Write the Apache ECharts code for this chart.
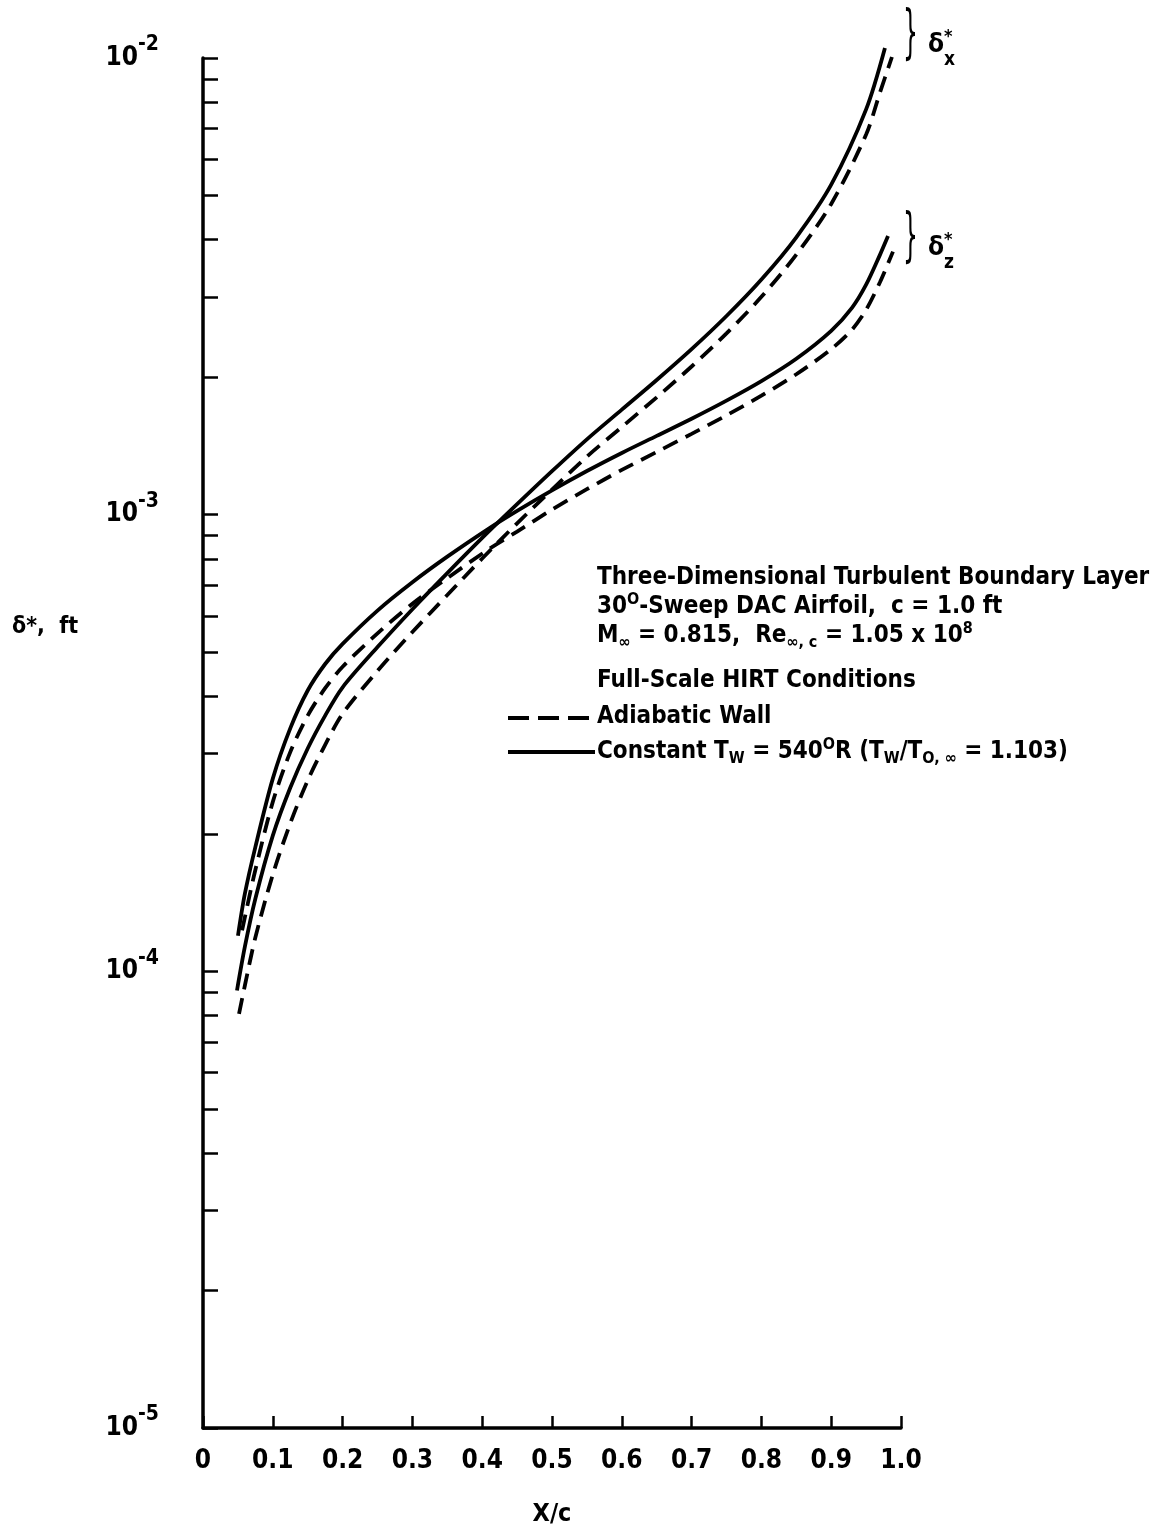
<!DOCTYPE html>
<html><head><meta charset="utf-8">
<script src="https://cdn.jsdelivr.net/npm/echarts@6/dist/echarts.min.js"></script>
<style>html,body{margin:0;padding:0;background:#fff}#c{width:1168px;height:1529px}</style>
</head><body><div id="c"></div>
<script>
const FONT = '"DejaVu Sans Condensed","DejaVu Sans",sans-serif';
const WEIGHT = 'bold';

const xTickLabels = ['0','0.1','0.2','0.3','0.4','0.5','0.6','0.7','0.8','0.9','1.0'];
const yLabelValues = [1e-5, 1e-4, 1e-3, 1e-2];
const yLabelExponents = ['-5', '-4', '-3', '-2'];
const yTickValues = [
  1e-5,2e-5,3e-5,4e-5,5e-5,6e-5,7e-5,8e-5,9e-5,
  1e-4,2e-4,3e-4,4e-4,5e-4,6e-4,7e-4,8e-4,9e-4,
  1e-3,2e-3,3e-3,4e-3,5e-3,6e-3,7e-3,8e-3,9e-3,1e-2
];

// delta*_x, constant Tw = 540 R (solid)
const deltaXConstTw = [
  [0.0487,9.08e-5],[0.060,1.132e-4],[0.075,1.442e-4],[0.100,1.982e-4],[0.125,2.523e-4],
  [0.150,3.076e-4],[0.175,3.631e-4],[0.200,4.188e-4],[0.250,5.129e-4],[0.300,6.209e-4],
  [0.350,7.447e-4],[0.400,8.892e-4],[0.450,1.054e-3],[0.500,1.245e-3],[0.550,1.462e-3],
  [0.600,1.698e-3],[0.650,1.972e-3],[0.700,2.304e-3],[0.750,2.723e-3],[0.800,3.273e-3],
  [0.850,4.050e-3],[0.900,5.279e-3],[0.950,7.718e-3],[0.977,1.052e-2]
];
// delta*_x, adiabatic wall (dashed)
const deltaXAdiabatic = [
  [0.0516,8.07e-5],[0.060,9.31e-5],[0.075,1.186e-4],[0.100,1.629e-4],[0.125,2.109e-4],
  [0.150,2.618e-4],[0.175,3.133e-4],[0.200,3.664e-4],[0.250,4.550e-4],[0.300,5.534e-4],
  [0.350,6.668e-4],[0.400,8.017e-4],[0.450,9.572e-4],[0.500,1.135e-3],[0.550,1.340e-3],
  [0.600,1.556e-3],[0.650,1.807e-3],[0.700,2.111e-3],[0.750,2.495e-3],[0.800,2.999e-3],
  [0.850,3.711e-3],[0.900,4.791e-3],[0.950,6.800e-3],[0.970,8.414e-3],[0.987,1.005e-2]
];
// delta*_z, constant Tw = 540 R (solid)
const deltaZConstTw = [
  [0.0501,1.197e-4],[0.060,1.479e-4],[0.075,1.871e-4],[0.100,2.642e-4],[0.125,3.404e-4],
  [0.150,4.121e-4],[0.175,4.710e-4],[0.200,5.212e-4],[0.250,6.166e-4],[0.300,7.112e-4],
  [0.350,8.091e-4],[0.410,9.333e-4],[0.450,1.019e-3],[0.500,1.130e-3],[0.550,1.246e-3],
  [0.600,1.365e-3],[0.650,1.488e-3],[0.700,1.622e-3],[0.750,1.777e-3],[0.800,1.961e-3],
  [0.850,2.195e-3],[0.900,2.527e-3],[0.930,2.841e-3],[0.950,3.188e-3],[0.970,3.711e-3],
  [0.9814,4.074e-3]
];
// delta*_z, adiabatic wall (dashed)
const deltaZAdiabatic = [
  [0.056,1.230e-4],[0.063,1.380e-4],[0.075,1.667e-4],[0.100,2.350e-4],[0.125,3.020e-4],
  [0.150,3.631e-4],[0.175,4.169e-4],[0.200,4.645e-4],[0.250,5.495e-4],[0.300,6.383e-4],
  [0.350,7.261e-4],[0.410,8.414e-4],[0.450,9.183e-4],[0.500,1.026e-3],[0.550,1.137e-3],
  [0.600,1.253e-3],[0.650,1.372e-3],[0.700,1.503e-3],[0.750,1.650e-3],[0.800,1.822e-3],
  [0.850,2.030e-3],[0.900,2.304e-3],[0.930,2.544e-3],[0.950,2.809e-3],[0.970,3.233e-3],
  [0.9885,3.767e-3]
];

const chart = echarts.init(document.getElementById('c'), null, {renderer: 'canvas'});

function R(size, extra) {
  return Object.assign({fontFamily: FONT, fontWeight: WEIGHT, fontSize: size, color: '#000', fill: '#000'}, extra || {});
}
const richText = {
  sup: R(16, {padding: [0, 0, 15, 0]}),
  sub: R(16, {padding: [14, 0, 0, 0]})
};

function lineSeries(name, data, dashed) {
  return {
    name: name, type: 'line', data: data, symbol: 'none', smooth: 0.3, clip: false,
    lineStyle: {color: '#000', width: 3.8, type: dashed ? [16, 9] : 'solid', cap: 'butt'},
    z: 3
  };
}

const legendLines = [
  {text: 'Three-Dimensional Turbulent Boundary Layer', y: 578},
  {text: '30{sup|O}-Sweep DAC Airfoil,  c = 1.0 ft', y: 607},
  {text: 'M{sub|∞} = 0.815,  Re{sub|∞, c} = 1.05 x 10{sup|8}', y: 636},
  {text: 'Full-Scale HIRT Conditions', y: 681},
  {text: 'Adiabatic Wall', y: 717},
  {text: 'Constant T{sub|W} = 540{sup|O}R (T{sub|W}/T{sub|O, ∞} = 1.103)', y: 752}
];

function txt(x, y, s, size, extra, weight) {
  return Object.assign({type: 'text', x: x, y: y, z: 10,
    style: {text: s, fontFamily: FONT, fontWeight: weight || WEIGHT, fontSize: size, fill: '#000',
            align: 'left', verticalAlign: 'middle'}}, extra || {});
}

const graphics = legendLines.map(l => {
  const g = txt(597, l.y, l.text, 24);
  g.style.rich = richText;
  return g;
});
graphics.push(
  {type: 'line', z: 10, shape: {x1: 508, y1: 718, x2: 595, y2: 718},
   style: {stroke: '#000', lineWidth: 3.8, lineDash: [21, 9]}},
  {type: 'line', z: 10, shape: {x1: 508, y1: 752, x2: 595, y2: 752},
   style: {stroke: '#000', lineWidth: 3.8}},
  txt(12, 627, 'δ*,  ft', 23),
  txt(903, 37, '}', 58, {scaleX: 0.45}, 'normal'),
  txt(928, 45, 'δ', 26),
  txt(944, 37, '*', 18),
  txt(944, 60, 'x', 19),
  txt(903, 240, '}', 58, {scaleX: 0.45}, 'normal'),
  txt(928, 248, 'δ', 26),
  txt(944, 240, '*', 18),
  txt(944, 263, 'z', 19)
);

chart.setOption({
  animation: false,
  backgroundColor: '#fff',
  grid: {left: 203, right: 267, top: 58, bottom: 101, containLabel: false, outerBoundsMode: 'none'},
  xAxis: {
    type: 'value', min: 0, max: 1, interval: 0.1,
    name: 'X/c', nameLocation: 'middle', nameGap: 74,
    nameTextStyle: {fontFamily: FONT, fontWeight: WEIGHT, fontSize: 25, color: '#000'},
    axisLine: {show: true, onZero: false, lineStyle: {color: '#000', width: 3.5}},
    axisTick: {show: true, inside: true, length: 12, lineStyle: {color: '#000', width: 2.5}},
    axisLabel: {
      margin: 20, color: '#000', fontFamily: FONT, fontWeight: WEIGHT, fontSize: 26,
      formatter: v => xTickLabels[Math.round(v * 10)]
    },
    splitLine: {show: false}
  },
  yAxis: {
    type: 'log', logBase: 10, min: 1e-5, max: 1e-2,
    axisLine: {show: true, onZero: false, lineStyle: {color: '#000', width: 3.5}},
    axisTick: {show: true, inside: true, length: 15, customValues: yTickValues,
               lineStyle: {color: '#000', width: 2.5}},
    axisLabel: {
      customValues: yLabelValues, margin: 44, color: '#000', fontFamily: FONT, fontSize: 26,
      formatter: v => {
        const i = yLabelValues.findIndex(t => Math.abs(Math.log10(t) - Math.log10(v)) < 1e-6);
        return '{b|10}{s|' + (i >= 0 ? yLabelExponents[i] : '') + '}';
      },
      rich: {
        b: R(26),
        s: R(21, {padding: [0, 0, 26, 0]})
      }
    },
    splitLine: {show: false},
    minorTick: {show: false}
  },
  series: [
    lineSeries('δx* Constant Tw', deltaXConstTw, false),
    lineSeries('δx* Adiabatic Wall', deltaXAdiabatic, true),
    lineSeries('δz* Constant Tw', deltaZConstTw, false),
    lineSeries('δz* Adiabatic Wall', deltaZAdiabatic, true)
  ],
  graphic: graphics
});
</script>
</body></html>
